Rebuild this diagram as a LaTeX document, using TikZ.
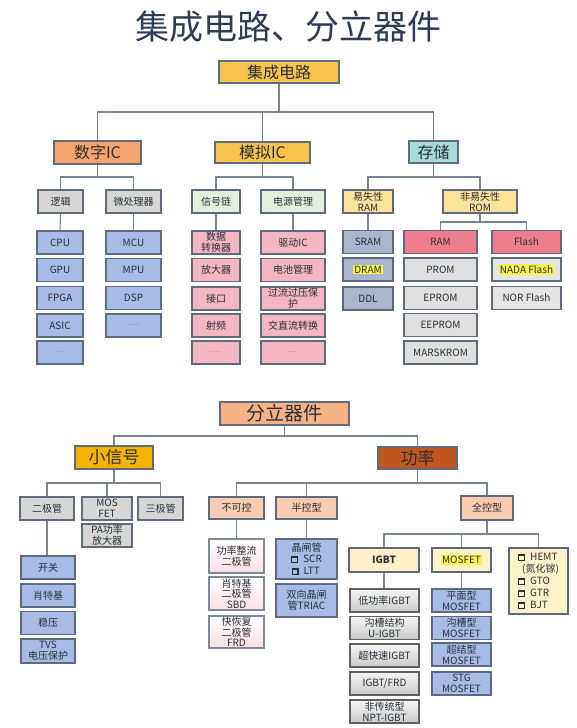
\documentclass[tikz,border=0pt]{standalone}
\usepackage{fontspec}
\setmainfont{Noto Sans CJK SC}
\usetikzlibrary{calc}
\definecolor{bd}{HTML}{5E6B7D}
\definecolor{ln}{HTML}{7B8490}
\definecolor{txt}{HTML}{2B2F38}
\definecolor{ttl}{HTML}{2E3B55}
\definecolor{gold}{HTML}{F8C44E}
\definecolor{orng}{HTML}{F4A46C}
\definecolor{teal}{HTML}{A3DCD9}
\definecolor{gray1}{HTML}{D6D6D6}
\definecolor{blue1}{HTML}{A6BCE6}
\definecolor{green1}{HTML}{E3EFDC}
\definecolor{pink1}{HTML}{F3B6C2}
\definecolor{yel1}{HTML}{FDE29A}
\definecolor{steel}{HTML}{A8B5CC}
\definecolor{red1}{HTML}{EE7E8B}
\definecolor{gray2}{HTML}{DFDFDF}
\definecolor{gray3}{HTML}{E4E4E4}
\definecolor{peach1}{HTML}{F6B185}
\definecolor{amber}{HTML}{F5B300}
\definecolor{rust}{HTML}{C2561F}
\definecolor{peach2}{HTML}{F9CBB0}
\definecolor{cream}{HTML}{FDF1C8}
\definecolor{hl}{HTML}{F7F34A}
\newcommand\hlt[1]{{\setlength{\fboxsep}{1pt}\colorbox{hl}{#1}}}
\newcommand\sqb{{\setlength{\fboxrule}{1.3pt}\setlength{\fboxsep}{0pt}\fbox{\rule{0pt}{4.5pt}\hspace{4.5pt}}}}
\tikzset{
  bx/.style={draw=bd, line width=1.1pt, inner sep=0pt, align=center, text=txt,
    font=\fontsize{10}{11}\selectfont},
  sz/.style 2 args={minimum width=#1pt, minimum height=#2pt},
  hd/.style={font=\fontsize{#1}{#1}\selectfont},
  conn/.style={draw=ln, line width=1.1pt},
  dots/.style={font=\fontsize{7}{7}\selectfont, text=gray},
  grad/.style={left color=#1, right color=#1},
  pinkgrad/.style={top color=white, bottom color=pink1!45, draw=bd!80},
  graygrad/.style={top color=gray!8, bottom color=gray!42, draw=gray!75!black},
}
\begin{document}
\begin{tikzpicture}[x=1pt,y=-1pt]
\fill[white] (0,0) rectangle (576,728);
\useasboundingbox (0,0) rectangle (576,728);

\node[text=ttl, font=\fontsize{34}{34}\selectfont, inner sep=0pt] (title) at (288,27) {集成电路、分立器件};

% ---- top tree
\node[bx, fill=gold, sz={120}{22}, hd=16] (jc) at (279,72) {集成电路};
\node[bx, fill=orng, sz={87}{23}, hd=16] (szic) at (97.5,152.5) {数字IC};
\node[bx, fill=gold, sz={95}{21}, hd=16] (mnic) at (262.5,152.5) {模拟IC};
\node[bx, fill=teal, sz={49}{22}, hd=16] (cc) at (433.5,152) {存储};

\node[bx, fill=gray1, sz={45}{23}] (lj) at (60.5,201.5) {逻辑};
\node[bx, fill=gray1, sz={55}{23}] (wcl) at (133.5,201.5) {微处理器};
\node[bx, fill=green1, sz={48}{23}] (xhl) at (216,201.5) {信号链};
\node[bx, fill=green1, sz={64}{23}] (dygl) at (293,201.5) {电源管理};
\node[bx, fill=yel1, sz={50}{23}] (ysx) at (368,201.5) {易失性\\RAM};
\node[bx, fill=yel1, sz={74}{23}] (fysx) at (480,201.5) {非易失性\\ROM};

% column A
\node[bx, fill=blue1, sz={46}{23}] (cpu) at (60,242.5) {CPU};
\node[bx, fill=blue1, sz={46}{23}] (gpu) at (60,270) {GPU};
\node[bx, fill=blue1, sz={46}{23}] (fpga) at (60,298) {FPGA};
\node[bx, fill=blue1, sz={46}{23}] (asic) at (60,325.5) {ASIC};
\node[bx, fill=blue1, sz={46}{23}, dots] (a5) at (60,352.5) {......};
% column B
\node[bx, fill=blue1, sz={55}{23}] (mcu) at (133.5,242.5) {MCU};
\node[bx, fill=blue1, sz={55}{23}] (mpu) at (133.5,270) {MPU};
\node[bx, fill=blue1, sz={55}{23}] (dsp) at (133.5,298) {DSP};
\node[bx, fill=blue1, sz={55}{23}, dots] (b4) at (133.5,325.5) {......};
% column C
\node[bx, fill=pink1, sz={48}{23}] (sj) at (216,242.5) {数据\\转换器};
\node[bx, fill=pink1, sz={48}{23}] (fdq) at (216,270) {放大器};
\node[bx, fill=pink1, sz={48}{23}] (jk) at (216,298.5) {接口};
\node[bx, fill=pink1, sz={48}{23}] (sp) at (216,325.5) {射频};
\node[bx, fill=pink1, sz={48}{23}, dots] (c5) at (216,352.5) {......};
% column D
\node[bx, fill=pink1, sz={64}{23}] (qd) at (293,242.5) {驱动IC};
\node[bx, fill=pink1, sz={64}{23}] (dc) at (293,270) {电池管理};
\node[bx, fill=pink1, sz={64}{23}] (gl1) at (293,298.5) {过流过压保\\护};
\node[bx, fill=pink1, sz={64}{23}] (jzl) at (293,325.5) {交直流转换};
\node[bx, fill=pink1, sz={64}{23}, dots] (d5) at (293,352.5) {......};
% column E
\node[bx, fill=steel, sz={50}{23}] (sram) at (368,242) {SRAM};
\node[bx, fill=steel, sz={50}{23}] (dram) at (368,269.5) {\hlt{DRAM}};
\node[bx, fill=steel, sz={50}{23}] (ddl) at (368,298.5) {DDL};
% column F
\node[bx, fill=red1, sz={73}{23}] (ram) at (440.5,242) {RAM};
\node[bx, fill=gray2, sz={73}{23}] (prom) at (440.5,269.5) {PROM};
\node[bx, fill=gray2, sz={73}{23}] (eprom) at (440.5,298) {EPROM};
\node[bx, fill=gray2, sz={73}{23}] (eeprom) at (440.5,325) {EEPROM};
\node[bx, fill=gray2, sz={73}{23}] (mask) at (440.5,352.5) {MARSKROM};
% column G
\node[bx, fill=red1, sz={69}{23}] (flash) at (526.5,242) {Flash};
\node[bx, fill=gray3, sz={69}{23}] (nada) at (526.5,269.5) {\hlt{NADA Flash}};
\node[bx, fill=gray3, sz={69}{23}] (nor) at (526.5,298) {NOR Flash};

% connectors top
\coordinate (b1) at (262,112);
\coordinate (b2) at (0,177);
\coordinate (b3) at (0,222);
\draw[conn] (jc.south) -- (jc.south |- b1);
\draw[conn] (szic.north) |- (b1) -| (cc.north);
\draw[conn] (mnic.north) -- (mnic.north |- b1);
\draw[conn] (szic.south) -- (szic.south |- b2);
\draw[conn] (lj.north) |- (szic.south |- b2) -| (wcl.north);
\draw[conn] (mnic.south) -- (mnic.south |- b2);
\draw[conn] (xhl.north) |- (mnic.south |- b2) -| (dygl.north);
\draw[conn] (cc.south) -- (cc.south |- b2);
\draw[conn] (ysx.north) |- (cc.south |- b2) -| (fysx.north);
\draw[conn] (lj.south) -- (cpu.north);
\draw[conn] (wcl.south) -- (mcu.north);
\draw[conn] (xhl.south) -- (sj.north);
\draw[conn] (dygl.south) -- (qd.north);
\draw[conn] (ysx.south) -- (sram.north);
\draw[conn] (fysx.south) -- (fysx.south |- b3);
\draw[conn] (ram.north) |- (fysx.south |- b3) -| (flash.north);

% ---- bottom tree
\node[bx, fill=peach1, sz={129}{23}, hd=19] (flqj) at (284.5,413.5) {分立器件};
\node[bx, fill=amber, sz={78}{23}, hd=17] (xxh) at (114,457.5) {小信号};
\node[bx, fill=rust, sz={79}{22}, hd=17] (gl) at (417.5,458) {功率};

\node[bx, fill=gray1, sz={54}{23}] (ejg) at (47,508.5) {二极管};
\node[bx, fill=gray1, sz={50}{23}] (mos) at (107,508.5) {MOS\\FET};
\node[bx, fill=gray1, sz={45}{23}] (sjg) at (160.5,508.5) {三极管};
\node[bx, fill=gray1, sz={50}{23}] (pa) at (107,535.5) {PA功率\\放大器};

\node[bx, fill=blue1, sz={54}{23}] (kg) at (48,567.5) {开关};
\node[bx, fill=blue1, sz={54}{23}] (stj) at (48,595.5) {肖特基};
\node[bx, fill=blue1, sz={54}{23}] (wy) at (48,623) {稳压};
\node[bx, fill=blue1, sz={54}{24}] (tvs) at (48,651) {TVS\\电压保护};

\node[bx, fill=peach2, sz={55}{22}] (bkk) at (236.5,508) {不可控};
\node[bx, fill=peach2, sz={61}{22}] (bkx) at (306.5,508) {半控型};
\node[bx, fill=peach2, sz={52}{24}] (qkx) at (487,508) {全控型};

\node[bx, pinkgrad, sz={55}{34}] (glzl) at (236.5,556) {功率整流\\二极管};
\node[bx, pinkgrad, sz={55}{33}, font=\fontsize{10}{10.5}\selectfont] (sbd) at (236.5,593.5) {肖特基\\二极管\\SBD};
\node[bx, pinkgrad, sz={55}{32}, font=\fontsize{10}{10.5}\selectfont] (frd) at (236.5,632) {快恢复\\二极管\\FRD};

\node[bx, fill=blue1, sz={61}{40}, font=\fontsize{10}{12}\selectfont] (jzg) at (306.5,559) {晶闸管\\[-1pt]\sqb\enspace SCR\\\sqb\enspace LTT\,};
\node[bx, fill=blue1, sz={61}{33}] (triac) at (306.5,600.5) {双向晶闸\\管TRIAC};

\node[bx, fill=cream, sz={70}{24}, font=\bfseries\fontsize{10}{11}\selectfont] (igbt) at (384,560) {IGBT};
\node[bx, fill=cream, sz={59}{24}] (mosfet) at (461.5,560) {\hlt{MOSFET}};
\node[bx, fill=cream, sz={59}{66}, align=left, font=\fontsize{10}{12}\selectfont] (hemt) at (538.5,581)
  {\sqb\enspace HEMT\\\hspace{4pt}(氮化镓)\\\sqb\enspace GTO\\\sqb\enspace GTR\\\sqb\enspace BJT};

\node[bx, graygrad, sz={69}{23}] (i1) at (384.5,600.5) {低功率IGBT};
\node[bx, graygrad, sz={69}{23}] (i2) at (384.5,628) {沟槽结构\\U-IGBT};
\node[bx, graygrad, sz={69}{23}] (i3) at (384.5,655.5) {超快速IGBT};
\node[bx, graygrad, sz={69}{23}] (i4) at (384.5,683.5) {IGBT/FRD};
\node[bx, graygrad, sz={69}{23}] (i5) at (384.5,711.5) {非传统型\\NPT-IGBT};

\node[bx, fill=blue1, sz={59}{23}] (m1) at (461.5,600.5) {平面型\\MOSFET};
\node[bx, fill=blue1, sz={59}{23}] (m2) at (461.5,628) {沟槽型\\MOSFET};
\node[bx, fill=blue1, sz={59}{23}] (m3) at (461.5,654.5) {超结型\\MOSFET};
\node[bx, fill=blue1, sz={59}{23}] (m4) at (461.5,683.5) {STG\\MOSFET};

% connectors bottom
\coordinate (b4) at (0,436);
\coordinate (b5) at (0,483);
\coordinate (b6) at (0,534);
\draw[conn] (flqj.south) -- (flqj.south |- b4);
\draw[conn] (xxh.north) |- (flqj.south |- b4) -| (gl.north);
\draw[conn] (xxh.south) -- (xxh.south |- b5);
\draw[conn] (ejg.north) |- (xxh.south |- b5) -| (sjg.north);
\draw[conn] (mos.north) -- (mos.north |- b5);
\draw[conn] (ejg.south) -- (ejg.south |- kg.north);
\draw[conn] (gl.south) -- (gl.south |- b5);
\draw[conn] (bkk.north) |- (gl.south |- b5) -| (qkx.north);
\draw[conn] (bkx.north) -- (bkx.north |- b5);
\draw[conn] (bkk.south) -- (glzl.north);
\draw[conn] (bkx.south) -- (jzg.north);
\draw[conn] (qkx.south) -- (qkx.south |- b6);
\draw[conn] (igbt.north) |- (qkx.south |- b6) -| (hemt.north);
\draw[conn] (mosfet.north) -- (mosfet.north |- b6);
\draw[conn] (igbt.south) -- (igbt.south |- i1.north);
\draw[conn] (mosfet.south) -- (m1.north);
\end{tikzpicture}
\end{document}
